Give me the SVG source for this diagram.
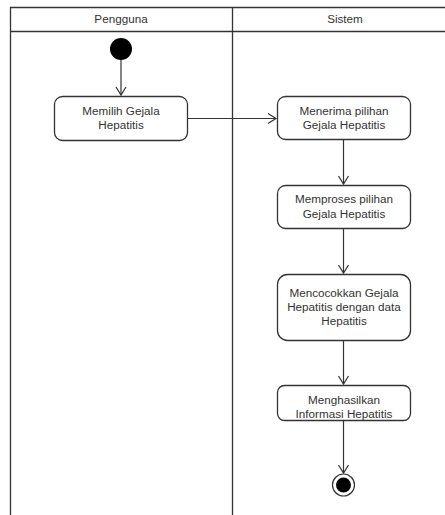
<svg xmlns="http://www.w3.org/2000/svg" width="445" height="515" viewBox="0 0 445 515">
  <defs>
    <marker id="open" markerWidth="12" markerHeight="12" refX="9" refY="6" orient="auto" markerUnits="userSpaceOnUse">
      <path d="M1,1 L9,6 L1,11" fill="none" stroke="#333" stroke-width="1.2"/>
    </marker>
  </defs>
  <style>
    .lane { stroke: #333; stroke-width: 1.3; fill: none; }
    .act { fill: #fff; stroke: #333; stroke-width: 1.3; }
    .lbl { font-family: "Liberation Sans", Arial, sans-serif; font-size: 11.7px; fill: #333; text-anchor: middle; }
    .edge { stroke: #333; stroke-width: 1.2; fill: none; marker-end: url(#open); }
  </style>
  <rect width="445" height="515" fill="#fff"/>

  <!-- swimlanes -->
  <g id="lanes">
    <path class="lane" d="M10.5,515 V7.5 H445 M10.5,31.5 H445 M232.5,7.5 V515"/>
    <text class="lbl" x="121" y="23">Pengguna</text>
    <text class="lbl" x="345" y="23">Sistem</text>
  </g>

  <!-- connectors -->
  <g id="connectors">
    <line class="edge" x1="121" y1="60" x2="121" y2="95"/>
    <line class="edge" x1="188" y1="118.5" x2="276" y2="118.5"/>
    <line class="edge" x1="343.5" y1="140" x2="343.5" y2="184"/>
    <line class="edge" x1="343.5" y1="229" x2="343.5" y2="273"/>
    <line class="edge" x1="343.5" y1="341" x2="343.5" y2="384"/>
    <line class="edge" x1="343.5" y1="421" x2="343.5" y2="473"/>
  </g>

  <g id="start">
    <circle cx="121" cy="49" r="11" fill="#000"/>
  </g>

  <g id="memilih">
    <rect class="act" x="54.5" y="96.5" width="133" height="44" rx="8"/>
    <text class="lbl" x="121" y="115">Memilih Gejala</text>
    <text class="lbl" x="121" y="128.5">Hepatitis</text>
  </g>

  <g id="menerima">
    <rect class="act" x="277.5" y="96.5" width="133" height="43" rx="8"/>
    <text class="lbl" x="344" y="115">Menerima pilihan</text>
    <text class="lbl" x="344" y="129">Gejala Hepatitis</text>
  </g>

  <g id="memproses">
    <rect class="act" x="277.5" y="185.5" width="133" height="43" rx="8"/>
    <text class="lbl" x="344" y="203">Memproses pilihan</text>
    <text class="lbl" x="344" y="218">Gejala Hepatitis</text>
  </g>

  <g id="mencocokkan">
    <rect class="act" x="277.5" y="274.5" width="133" height="66" rx="10"/>
    <text class="lbl" x="344" y="297">Mencocokkan Gejala</text>
    <text class="lbl" x="344" y="311">Hepatitis dengan data</text>
    <text class="lbl" x="344" y="325">Hepatitis</text>
  </g>

  <g id="menghasilkan">
    <rect class="act" x="277.5" y="385.5" width="133" height="35" rx="7"/>
    <text class="lbl" x="344" y="404">Menghasilkan</text>
    <text class="lbl" x="344" y="418">Informasi Hepatitis</text>
  </g>

  <g id="end">
    <circle cx="343.5" cy="485" r="11" fill="#fff" stroke="#333" stroke-width="1.2"/>
    <circle cx="343.5" cy="485" r="7.5" fill="#000"/>
  </g>
</svg>
